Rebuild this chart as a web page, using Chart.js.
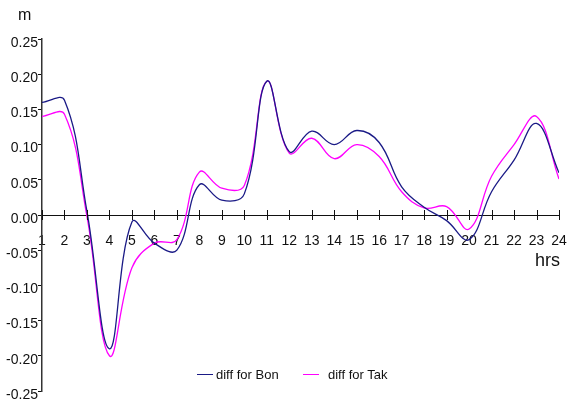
<!DOCTYPE html>
<html>
<head>
<meta charset="utf-8">
<script src="https://cdn.jsdelivr.net/npm/chart.js@4.4.1/dist/chart.umd.min.js"></script>
<style>
  html, body { margin: 0; padding: 0; background: #fff; }
  #wrap { position: relative; width: 571px; height: 405px; font-family: "Liberation Sans", Arial, sans-serif; color: #111; }
  canvas { position: absolute; left: 0; top: 0; }
  .lbl { position: absolute; white-space: nowrap; line-height: 1; }
  .leg { position: absolute; top: 368px; font-size: 13px; line-height: 13px; white-space: nowrap; }
  .sw { position: absolute; top: 6px; width: 16px; height: 0; border-top: 1.5px solid; }
</style>
</head>
<body>
<div id="wrap">
  <canvas id="c" width="571" height="405"></canvas>
  <div class="lbl" style="left:18px; top:7px; font-size:16px;">m</div>
  <div class="lbl" style="left:535px; top:251px; font-size:18px;">hrs</div>
  <div class="leg" style="left:197px;"><span class="sw" style="left:0; border-color:#1a1a86;"></span><span style="position:absolute; left:19px;">diff for Bon</span></div>
  <div class="leg" style="left:303px;"><span class="sw" style="left:0; border-color:#ff00ff;"></span><span style="position:absolute; left:25px;">diff for Tak</span></div>
</div>
<script>
const hours = [1,2,3,4,5,6,7,8,9,10,11,12,13,14,15,16,17,18,19,20,21,22,23,24];
const diffBon = [0.160, 0.163, 0.005, -0.190, -0.010, -0.040, -0.050, 0.043, 0.021, 0.030, 0.190, 0.090, 0.119, 0.100, 0.120, 0.103, 0.040, 0.011, -0.008, -0.035, 0.033, 0.078, 0.130, 0.060];
const diffTak = [0.140, 0.143, -0.002, -0.200, -0.075, -0.040, -0.035, 0.061, 0.038, 0.042, 0.190, 0.088, 0.109, 0.080, 0.100, 0.083, 0.033, 0.010, 0.012, -0.020, 0.055, 0.100, 0.140, 0.051];
const seriesNames = ['diff for Bon', 'diff for Tak'];
const yMin = -0.25, yMax = 0.25, yStep = 0.05;

const crossTicks = {
  id: 'crossTicks',
  afterDraw(chart) {
    const xs = chart.scales.x, ys = chart.scales.y;
    const y0 = ys.getPixelForValue(0);
    const ctx = chart.ctx;
    ctx.save();
    ctx.strokeStyle = '#111';
    ctx.lineWidth = 1;
    ctx.beginPath();
    xs.ticks.forEach(t => {
      const px = Math.round(xs.getPixelForValue(t.value)) + 0.5;
      ctx.moveTo(px, y0 - 5);
      ctx.lineTo(px, y0 + 5);
    });
    ctx.stroke();
    ctx.restore();
  }
};

const toPts = arr => arr.map((v, i) => ({x: hours[i], y: v}));

new Chart(document.getElementById('c'), {
  type: 'line',
  data: {
    datasets: [
      { label: seriesNames[0], data: toPts(diffBon), borderColor: '#1a1a86', borderWidth: 1.3, pointRadius: 0, tension: 0.4, fill: false },
      { label: seriesNames[1], data: toPts(diffTak), borderColor: '#ff00ff', borderWidth: 1.3, pointRadius: 0, tension: 0.4, fill: false }
    ]
  },
  plugins: [crossTicks],
  options: {
    responsive: false,
    animation: false,
    layout: { padding: { left: 0, right: 12, top: 39, bottom: 14 } },
    plugins: { legend: { display: false }, tooltip: { enabled: false } },
    scales: {
      x: {
        type: 'linear',
        position: { y: 0 },
        min: 1, max: 24,
        afterFit(scale) { scale.paddingLeft = 0; scale.paddingRight = 0; },
        grid: { display: true, drawOnChartArea: false, drawTicks: false },
        border: { display: true, color: '#111', width: 1 },
        ticks: { stepSize: 1, padding: 18, color: '#111', font: { family: 'Liberation Sans', size: 14 }, maxRotation: 0, autoSkip: false }
      },
      y: {
        min: yMin, max: yMax,
        afterFit(scale) { scale.width = 42; },
        grid: { display: true, drawOnChartArea: false, drawTicks: true, tickLength: 4, color: '#111' },
        border: { display: true, color: '#333', width: 1.5 },
        ticks: { stepSize: yStep, padding: 0, labelOffset: 4, color: '#111', font: { family: 'Liberation Sans', size: 14 }, callback: v => v.toFixed(2) }
      }
    }
  }
});
</script>
</body>
</html>
